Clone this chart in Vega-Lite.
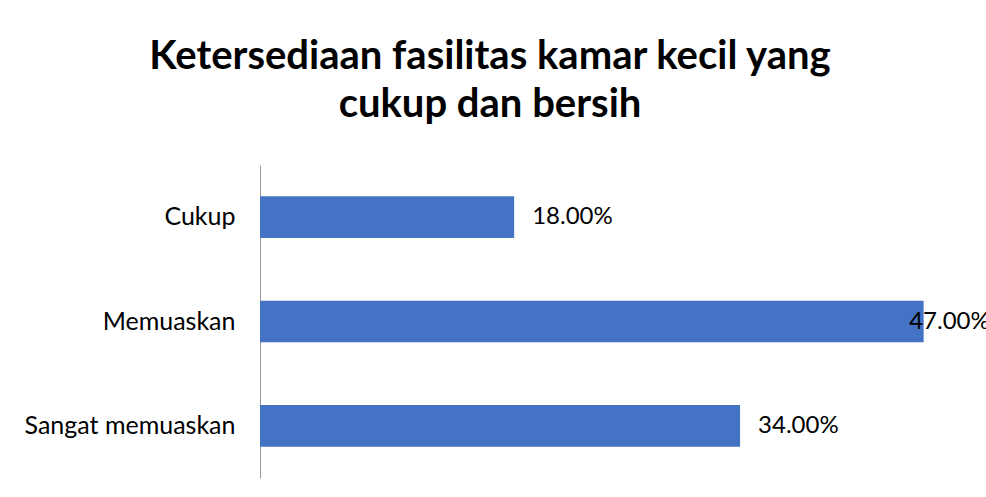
{
  "$schema": "https://vega.github.io/schema/vega-lite/v6.json",
  "autosize": {"type": "none"},
  "padding": {"left": 260, "top": 165, "right": 20, "bottom": 19},
  "width": 706,
  "height": 313,
  "background": "white",
  "title": {
    "text": ["Ketersediaan fasilitas kamar kecil yang", "cukup dan bersih"],
    "font": "Lato",
    "fontSize": 40,
    "fontWeight": "bold",
    "color": "#000000",
    "anchor": "middle",
    "frame": "group",
    "dx": -123,
    "offset": 40,
    "lineHeight": 48
  },
  "data": {
    "values": [
      {"kategori": "Cukup", "nilai": 0.18},
      {"kategori": "Memuaskan", "nilai": 0.47},
      {"kategori": "Sangat memuaskan", "nilai": 0.34}
    ]
  },
  "transform": [
    {"calculate": "min(datum.nilai, 0.447)", "as": "labelPos"}
  ],
  "encoding": {
    "y": {
      "field": "kategori",
      "type": "nominal",
      "sort": ["Cukup", "Memuaskan", "Sangat memuaskan"],
      "scale": {"paddingInner": 0.6, "paddingOuter": 0.3},
      "axis": {
        "title": null,
        "ticks": false,
        "domainColor": "#999999",
        "domainWidth": 1,
        "labelFont": "Lato",
        "labelFontSize": 25,
        "labelColor": "#000000",
        "labelPadding": 25,
        "labelLimit": 300
      }
    }
  },
  "layer": [
    {
      "mark": {"type": "bar", "color": "#4472C4"},
      "encoding": {
        "x": {
          "field": "nilai",
          "type": "quantitative",
          "scale": {"domain": [0, 0.5], "nice": false},
          "axis": null
        }
      }
    },
    {
      "mark": {"type": "text", "align": "left", "baseline": "middle", "dx": 18, "font": "Lato", "fontSize": 24, "color": "#000000"},
      "encoding": {
        "x": {"field": "labelPos", "type": "quantitative"},
        "text": {"field": "nilai", "type": "quantitative", "format": ".2%"}
      }
    }
  ],
  "config": {
    "view": {"stroke": null},
    "axis": {"grid": false}
  }
}
